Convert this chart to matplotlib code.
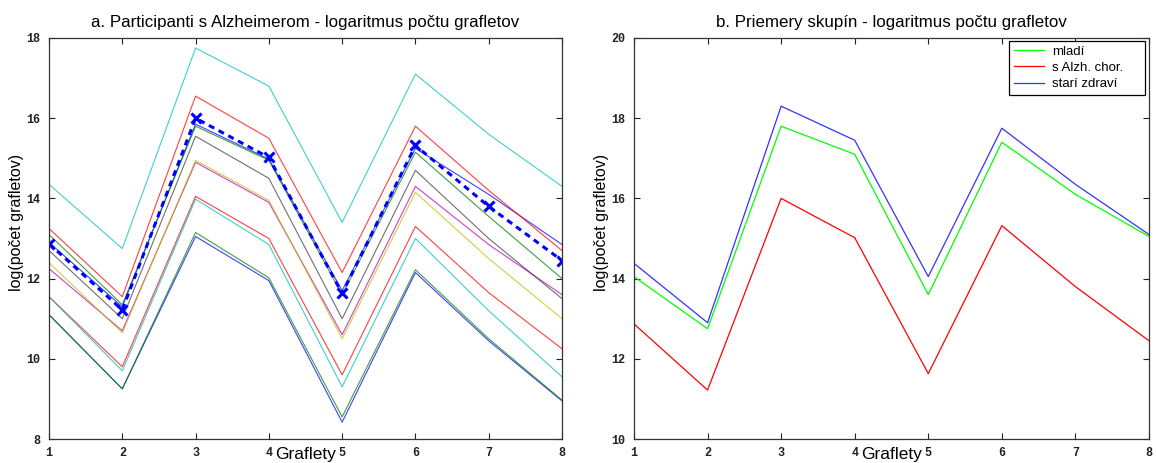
import matplotlib
matplotlib.use("Agg")
import matplotlib.pyplot as plt
import numpy as np

# x axis: graflet index
graflets = [1, 2, 3, 4, 5, 6, 7, 8]

# panel a: log(count) per Alzheimer participant (MATLAB colour order)
alz_blue_1 = [12.9, 11.3, 15.85, 14.98, 11.7, 15.25, 14.1, 12.85]
alz_green_1 = [13.1, 11.35, 15.8, 14.95, 11.6, 15.15, 13.55, 12.0]
alz_red_1 = [13.25, 11.55, 16.55, 15.5, 12.15, 15.8, 14.2, 12.7]
alz_cyan_1 = [14.35, 12.75, 17.75, 16.8, 13.4, 17.1, 15.6, 14.3]
alz_magenta = [12.25, 10.7, 14.9, 13.9, 10.6, 14.3, 12.85, 11.6]
alz_yellow = [12.4, 10.65, 14.95, 13.95, 10.5, 14.15, 12.5, 11.0]
alz_black = [12.7, 11.0, 15.55, 14.5, 11.0, 14.7, 13.0, 11.5]
alz_blue_2 = [11.1, 9.25, 13.05, 11.95, 8.42, 12.15, 10.45, 8.95]
alz_green_2 = [11.1, 9.25, 13.15, 12.02, 8.55, 12.22, 10.5, 8.97]
alz_red_2 = [11.55, 9.8, 14.05, 13.0, 9.6, 13.3, 11.65, 10.25]
alz_cyan_2 = [11.55, 9.7, 13.98, 12.85, 9.3, 13.0, 11.2, 9.55]

# panel b: group means
mean_young = [14.05, 12.75, 17.8, 17.1, 13.6, 17.4, 16.1, 15.05]
mean_alz = [12.87, 11.22, 16.0, 15.02, 11.63, 15.32, 13.8, 12.45]
mean_old = [14.38, 12.9, 18.3, 17.45, 14.05, 17.75, 16.35, 15.1]

legend_labels = ["mladí", "s Alzh. chor.", "starí zdraví"]

# old MATLAB default colour order
mcolors = [(0, 0, 1), (0, 0.5, 0), (1, 0, 0), (0, 0.75, 0.75),
           (0.75, 0, 0.75), (0.75, 0.75, 0), (0.25, 0.25, 0.25)]

participants = [alz_blue_1, alz_green_1, alz_red_1, alz_cyan_1, alz_magenta,
                alz_yellow, alz_black, alz_blue_2, alz_green_2, alz_red_2,
                alz_cyan_2]

text_font = "Liberation Sans"


def style_axes(ax, ylim, yticks):
    ax.set_xlim(1, 8)
    ax.set_ylim(*ylim)
    ax.set_xticks(graflets)
    ax.set_yticks(yticks)
    ax.tick_params(direction="in", length=4, width=0.8, top=True, right=True,
                   colors="#222222", pad=6)
    for lab in ax.get_xticklabels() + ax.get_yticklabels():
        lab.set_fontfamily("Liberation Mono")
        lab.set_fontsize(8.5)
        lab.set_fontweight("bold")
    for s in ax.spines.values():
        s.set_color("#333333")
        s.set_linewidth(0.9)
    ax.set_xlabel("Graflety", family=text_font, fontsize=12.5, labelpad=-9)
    ax.set_ylabel("log(počet grafletov)", family=text_font, fontsize=11.5)
    ax.yaxis.set_label_coords(-0.048, 0.54)


fig = plt.figure(figsize=(11.56, 4.63), dpi=100)
ax1 = fig.add_axes([49 / 1156, 24 / 463, 513 / 1156, 401 / 463])
ax2 = fig.add_axes([634 / 1156, 24 / 463, 515 / 1156, 401 / 463])

for i, vals in enumerate(participants):
    ax1.plot(graflets, vals, color=mcolors[i % 7], lw=0.8, alpha=0.75)
ax1.plot(graflets, mean_alz, color="blue", lw=2.2, ls=(0, (2, 1.6)),
         marker="x", ms=6.5, mew=2.2)
style_axes(ax1, (8, 18), [8, 10, 12, 14, 16, 18])
ax1.set_title("a. Participanti s Alzheimerom - logaritmus počtu grafletov",
              family=text_font, fontsize=12.2, pad=8)

ax2.plot(graflets, mean_young, color=(0, 1, 0), lw=0.9, label=legend_labels[0])
ax2.plot(graflets, mean_alz, color=(1, 0, 0), lw=0.9, label=legend_labels[1])
ax2.plot(graflets, mean_old, color=(0.2, 0.2, 1), lw=0.9, label=legend_labels[2])
style_axes(ax2, (10, 20), [10, 12, 14, 16, 18, 20])
ax2.set_title("b. Priemery skupín - logaritmus počtu grafletov",
              family=text_font, fontsize=12.2, pad=8)
leg = ax2.legend(loc="upper right", prop=dict(family=text_font, size=9.5),
                 bbox_to_anchor=(0.728, 0.0, 0.264, 0.9925), mode="expand",
                 fancybox=False, edgecolor="black", framealpha=1,
                 borderpad=0.35, labelspacing=0.3, handlelength=2.3,
                 handletextpad=0.6, borderaxespad=0.0)
leg.get_frame().set_linewidth(0.9)

fig.savefig("out.png", dpi=100)
